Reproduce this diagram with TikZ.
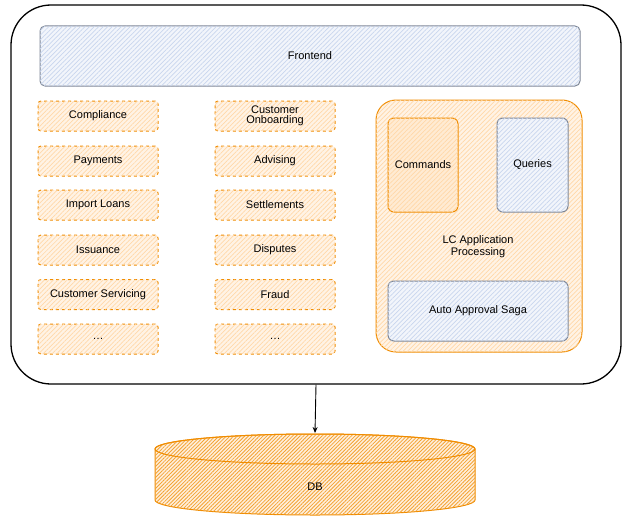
\documentclass[tikz,border=0pt]{standalone}
\usepackage{fontspec}
\setmainfont{Liberation Sans}
\usetikzlibrary{patterns.meta,arrows.meta}
\definecolor{sketchorange}{HTML}{F08C00}
\definecolor{sketchpeach}{HTML}{FFD8A8}
\definecolor{sketchgray}{HTML}{7D8696}
\definecolor{sketchblue}{HTML}{C9D6EE}

\begin{document}
\begin{tikzpicture}
[x=1pt, y=-1pt,
every node/.style={font=\fontsize{11}{12}\selectfont, inner sep=1pt},
hatch orange/.style={fill=sketchpeach!30, postaction={pattern={Lines[angle=45, distance=3.2pt, line width=0.7pt]}, pattern color=sketchpeach}},
hatch blue/.style={fill=sketchblue!25, postaction={pattern={Lines[angle=45, distance=3.2pt, line width=0.7pt]}, pattern color=sketchblue}},
module/.style={draw=sketchorange, dashed, line width=1pt, rounded corners=3pt, hatch orange, minimum width=120pt, minimum height=30pt, align=center},
core/.style={draw=sketchorange, line width=1pt, rounded corners=6pt, hatch orange},
read side/.style={draw=sketchgray, line width=1pt, rounded corners=6pt, hatch blue}]
\useasboundingbox (0,0) rectangle (631,519);
% outer system
\node[draw, line width=1.3pt, rounded corners=40pt, minimum width=610pt, minimum height=379pt] (system) at (316,194.5) {};
\node[read side, rounded corners=5pt, minimum width=540pt, minimum height=60pt] (frontend) at (310,56) {Frontend};
% first column
\node[module] (compliance) at (98,116) {Compliance};
\node[module] (payments) at (98,161) {Payments};
\node[module] (imports) at (98,205) {Import Loans};
\node[module] (issuance) at (98,250) {Issuance};
\node[module] (servicing) at (98,294.5) {Customer Servicing};
\node[module] (moreleft) at (98,339) {\dots};
% second column
\node[module] (onboarding) at (275,116) {Customer\\[-2pt]Onboarding};
\node[module] (advising) at (275,161) {Advising};
\node[module] (settlements) at (275,205) {Settlements};
\node[module] (disputes) at (275,250) {Disputes};
\node[module] (fraud) at (275,294.5) {Fraud};
\node[module] (moreright) at (275,339) {\dots};
% LC application processing
\node[core, rounded corners=20pt, minimum width=206pt, minimum height=252pt] (lcapp) at (479,226) {};
\node[align=center] (lclabel) at (478,247) {LC Application\\Processing};
\node[core, fill=sketchpeach!50, minimum width=70pt, minimum height=94pt] (commands) at (423,165) {Commands};
\node[read side, minimum width=71pt, minimum height=94pt] (queries) at (532.5,165) {Queries};
\node[read side, minimum width=180pt, minimum height=60pt] (saga) at (478,311) {Auto Approval Saga};
% database
\filldraw[draw=sketchorange, line width=1pt, fill=sketchpeach!40, postaction={pattern={Lines[angle=45, distance=2.6pt, line width=0.8pt]}, pattern color=sketchorange!80}]
(155,449) -- (155,500) arc[start angle=180, end angle=360, x radius=160pt, y radius=15pt] -- (475,449) arc[start angle=0, end angle=180, x radius=160pt, y radius=15pt] -- cycle;
\draw[sketchorange, line width=1pt] (315,449) ellipse[x radius=160pt, y radius=15pt];
\coordinate (dbtop) at (315,433);
\node (db) at (315,487) {DB};
\draw[-{Stealth[length=6pt, width=5pt]}, line width=0.9pt] (system.south) -- (dbtop);
\end{tikzpicture}
\end{document}
